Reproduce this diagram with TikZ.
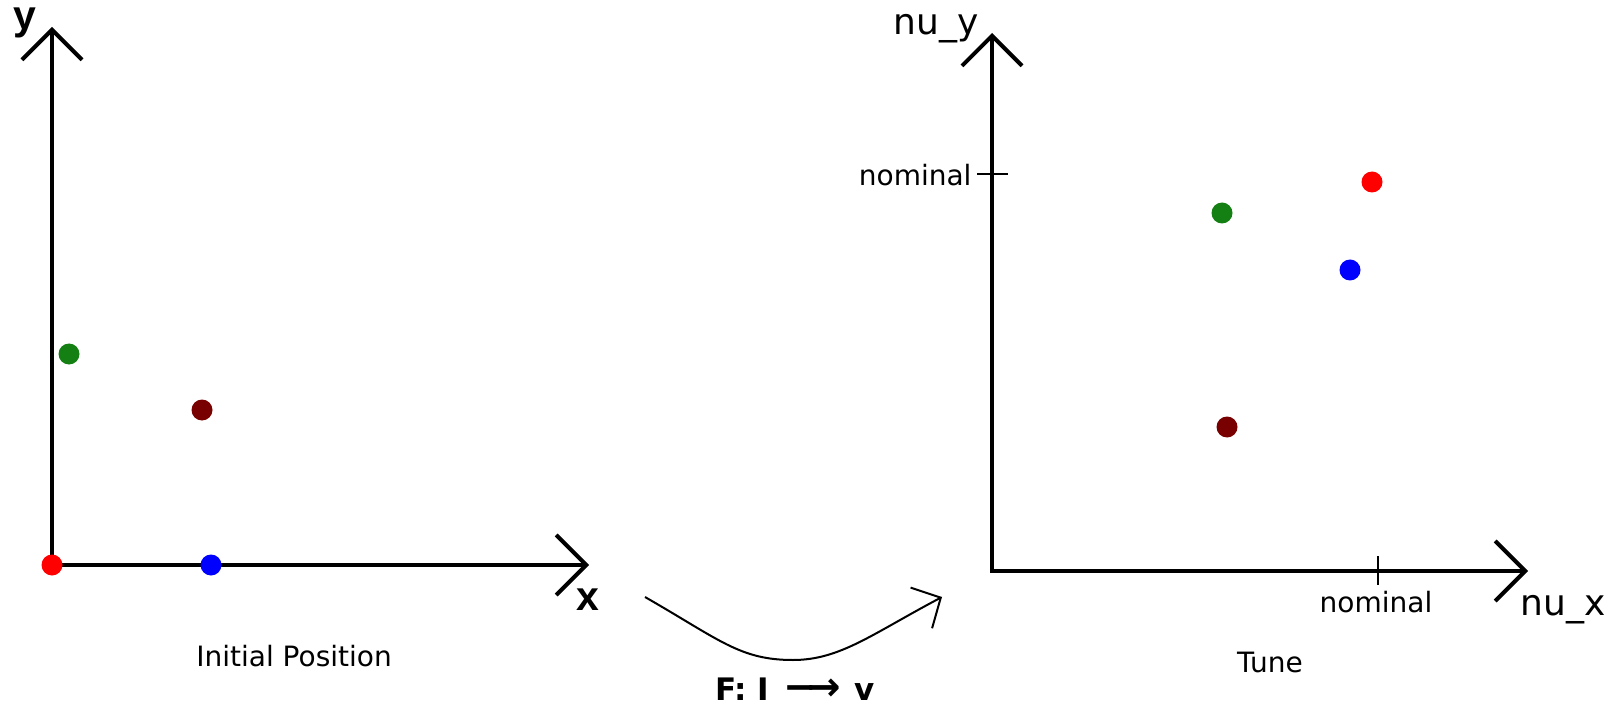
\documentclass[tikz,border=0pt]{standalone}
\usepackage{fontspec}
\setmainfont{DejaVu Sans}
\newfontfamily\labfont{Liberation Sans}
\usetikzlibrary{arrows.meta}

\definecolor{dotred}{RGB}{255,0,0}
\definecolor{dotgreen}{RGB}{20,128,20}
\definecolor{dotblue}{RGB}{0,0,255}
\definecolor{dotbrown}{RGB}{120,0,0}

\tikzset{
    axis/.style={line width=4pt, line join=miter,
        {Straight Barb[length=30pt,width=60pt]}-{Straight Barb[length=30pt,width=60pt]}},
    tick/.style={line width=2.5pt},
    mapline/.style={line width=2pt, -{Straight Barb[length=22pt,width=46pt]}},
    dot/.style={circle, inner sep=0pt, minimum size=21pt},
    smalltext/.style={font=\fontsize{28}{32}\selectfont},
    bigtext/.style={font=\fontsize{36}{40}\selectfont},
    axlabel/.style={font=\fontsize{41}{45}\selectfont\labfont\bfseries},
    maplabel/.style={font=\fontsize{31}{36}\selectfont\bfseries},
}

\begin{document}
\begin{tikzpicture}[x=1pt,y=-1pt]
    \useasboundingbox (0,0) rectangle (1624,708);

    % initial position
    \coordinate (Y1) at (52,27);
    \coordinate (O1) at (52,565);
    \coordinate (X1) at (589,565);
    \draw[axis] (Y1) -- (O1) -- (X1);
    \node[axlabel, anchor=base] (ylab) at (25,30) {y};
    \node[axlabel, anchor=base] (xlab) at (588,610) {x};
    \node[dot, fill=dotred] (r1) at (O1) {};
    \node[dot, fill=dotblue] (b1) at (211,565) {};
    \node[dot, fill=dotgreen] (g1) at (69,354) {};
    \node[dot, fill=dotbrown] (d1) at (202,410) {};
    \node[smalltext, anchor=base] (cap1) at (294,666) {Initial Position};

    % tune
    \coordinate (Y2) at (992,33);
    \coordinate (O2) at (992,571);
    \coordinate (X2) at (1528,571);
    \draw[axis] (Y2) -- (O2) -- (X2);
    \draw[tick] (977,174) -- (1008,174);
    \draw[tick] (1378,556) -- (1378,585);
    \node[smalltext, anchor=base east] (nomy) at (975,186) {nominal};
    \node[smalltext, anchor=base] (nomx) at (1376,612) {nominal};
    \node[bigtext, anchor=base] (nuy) at (936,35) {nu\_y};
    \node[bigtext, anchor=base] (nux) at (1563,615) {nu\_x};
    \node[dot, fill=dotred] (r2) at (1372,182) {};
    \node[dot, fill=dotgreen] (g2) at (1222,213) {};
    \node[dot, fill=dotblue] (b2) at (1350,270) {};
    \node[dot, fill=dotbrown] (d2) at (1227,427) {};
    \node[smalltext, anchor=base] (cap2) at (1270,672) {Tune};

    % the map
    \coordinate (fs) at (645,597);
    \coordinate (fm) at (793,660);
    \coordinate (fe) at (942,597);
    \draw[mapline] (fs) .. controls (720,640) and (740,660) .. (fm)
        .. controls (840,660) and (872,634) .. (fe);
    \node[maplabel, anchor=base] (flab) at (795,700)
        {F: I\hspace{14pt}{\fontsize{40}{40}\selectfont −\kern-10pt→}\hspace{14pt}v};
\end{tikzpicture}
\end{document}
